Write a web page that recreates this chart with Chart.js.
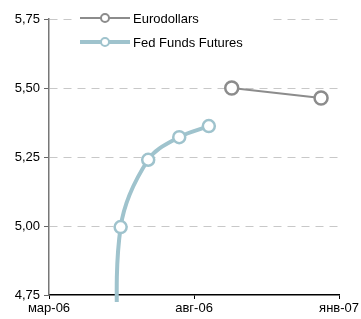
<!DOCTYPE html>
<html>
<head>
<meta charset="utf-8">
<script src="https://cdn.jsdelivr.net/npm/chart.js@4/dist/chart.umd.min.js"></script>
<style>
  html, body { margin: 0; padding: 0; background: #fff; }
  #wrap { width: 361px; height: 319px; }
</style>
</head>
<body>
<div id="wrap"><canvas id="c" width="361" height="319"></canvas></div>
<script>
// x is months since мар-06 (0 = мар-06, 5 = авг-06, 10 = янв-07)
var xTickValues = [0, 5, 10];
var xTickLabels = ["мар-06", "авг-06", "янв-07"];

var euroX = [6.3, 9.38];
var euroY = [5.50, 5.464];

var fedX = [2.36, 2.47, 3.42, 4.49, 5.51];
var fedY = [4.45, 4.996, 5.24, 5.322, 5.362];

var yTicks = [4.75, 5.00, 5.25, 5.50, 5.75];

var euroColor = "#8c8c8c";
var fedColor = "#9fc3cd";
var fontFamily = "'Liberation Sans', Arial, sans-serif";

function toPoints(xs, ys) {
    var pts = [];
    for (var i = 0; i < xs.length; i++) pts.push({ x: xs[i], y: ys[i] });
    return pts;
}

// legend drawn by hand: line sample with a hollow marker, stacked vertically
var legendPlugin = {
    id: "boxLegend",
    afterDraw: function (chart) {
        var ctx = chart.ctx;
        var items = [
            { label: "Eurodollars", color: euroColor, width: 2, y: 18 },
            { label: "Fed Funds Futures", color: fedColor, width: 4, y: 42 }
        ];
        ctx.save();
        ctx.fillStyle = "#fff";
        ctx.fillRect(74, 6, 196, 48);
        items.forEach(function (it) {
            ctx.strokeStyle = it.color;
            ctx.lineWidth = it.width;
            ctx.beginPath();
            ctx.moveTo(80, it.y);
            ctx.lineTo(130, it.y);
            ctx.stroke();
            ctx.beginPath();
            ctx.arc(105, it.y, 4, 0, Math.PI * 2);
            ctx.fillStyle = "#fff";
            ctx.fill();
            ctx.lineWidth = 2;
            ctx.stroke();
            ctx.fillStyle = "#000";
            ctx.font = "13px " + fontFamily;
            ctx.textBaseline = "middle";
            ctx.textAlign = "left";
            ctx.fillText(it.label, 133, it.y + 1);
        });
        ctx.restore();
    }
};

new Chart(document.getElementById("c"), {
    type: "line",
    data: {
        datasets: [
            {
                label: "Eurodollars",
                data: toPoints(euroX, euroY),
                borderColor: euroColor,
                borderWidth: 2,
                pointRadius: 6.5,
                pointBorderWidth: 2.5,
                pointBackgroundColor: "#fff",
                pointBorderColor: euroColor,
                tension: 0
            },
            {
                label: "Fed Funds Futures",
                data: toPoints(fedX, fedY),
                borderColor: fedColor,
                borderWidth: 4,
                pointRadius: [0, 6, 6, 6, 6],
                pointBorderWidth: 2.5,
                pointBackgroundColor: "#fff",
                pointBorderColor: fedColor,
                tension: 0.35,
                clip: { left: 0, top: 0, right: 0, bottom: 7 }
            }
        ]
    },
    options: {
        responsive: false,
        animation: false,
        layout: { padding: { top: 19, right: 20, left: 0, bottom: 0 } },
        plugins: { legend: { display: false }, tooltip: { enabled: false } },
        scales: {
            x: {
                type: "linear",
                min: 0,
                max: 10,
                afterBuildTicks: function (axis) {
                    axis.ticks = xTickValues.map(function (v) { return { value: v }; });
                },
                afterFit: function (axis) { axis.height = 24; },
                ticks: {
                    autoSkip: false,
                    maxRotation: 0,
                    padding: 2,
                    color: "#000",
                    font: { size: 13, family: fontFamily },
                    callback: function (v) {
                        var i = xTickValues.indexOf(v);
                        return i >= 0 ? xTickLabels[i] : "";
                    }
                },
                grid: { drawOnChartArea: false, drawTicks: true, tickLength: 4, color: "#000" },
                border: { color: "#000", width: 1.5 }
            },
            y: {
                min: 4.75,
                max: 5.75,
                afterBuildTicks: function (axis) {
                    axis.ticks = yTicks.map(function (v) { return { value: v }; });
                },
                afterFit: function (axis) { axis.width = 49; },
                ticks: {
                    padding: 4,
                    color: "#000",
                    font: { size: 13, family: fontFamily },
                    callback: function (v) { return v.toFixed(2).replace(".", ","); }
                },
                grid: {
                    color: function (c) { return c.tick && c.tick.value === 4.75 ? "rgba(0,0,0,0)" : "#c8c8c8"; },
                    tickColor: "#666",
                    tickLength: 5,
                    drawTicks: true
                },
                border: { color: "#777", width: 1.5, dash: [8, 6] }
            }
        }
    },
    plugins: [legendPlugin]
});
</script>
</body>
</html>
